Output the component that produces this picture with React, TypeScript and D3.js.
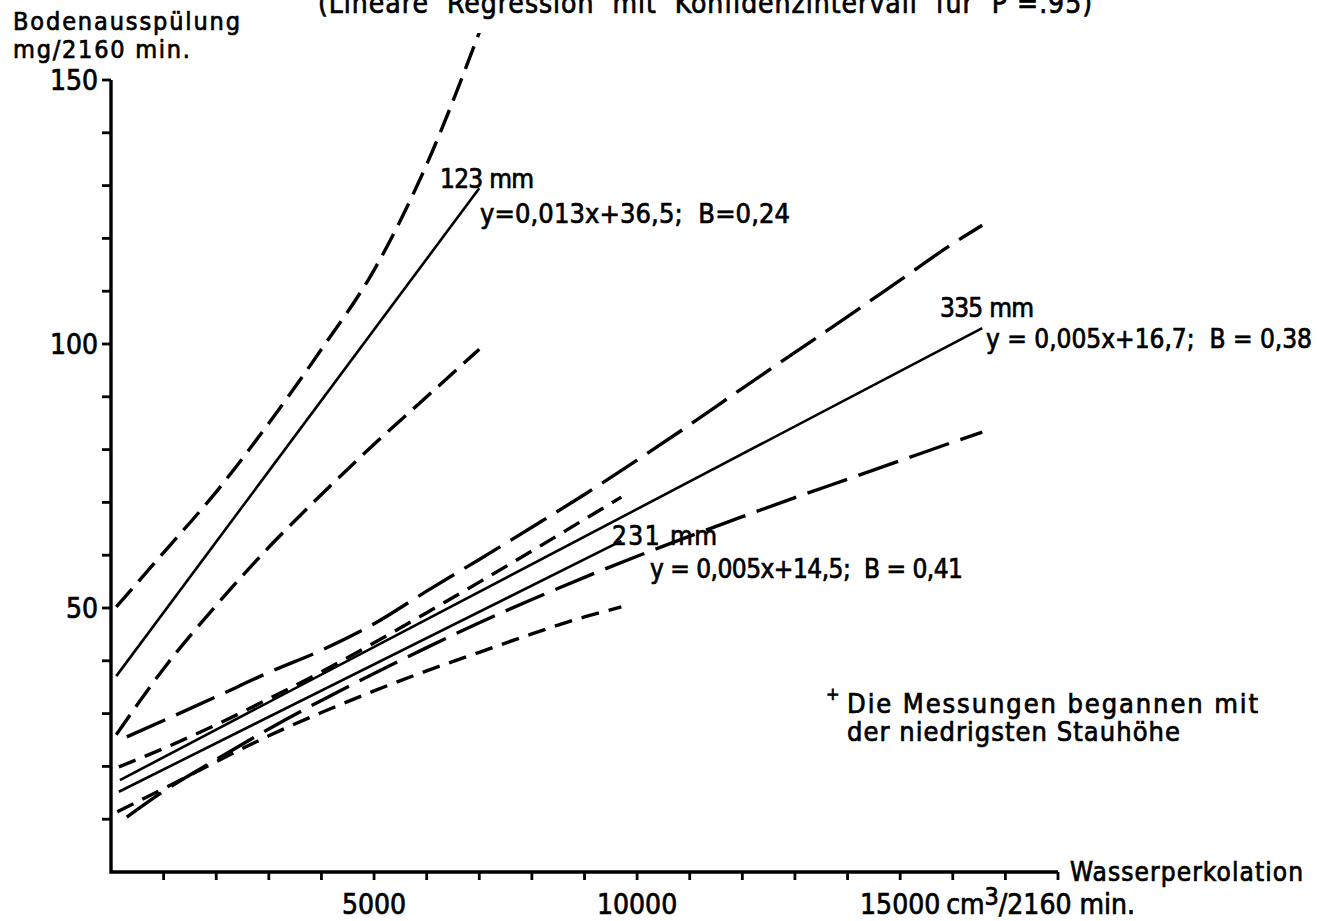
import React from 'react';
import * as d3 from 'd3';

// x: Wasserperkolation (cm3/2160 min), y: Bodenausspülung (mg/2160 min)
const xTickValues = d3.range(1000, 19000, 1000);
const yTickValues = d3.range(10, 160, 10);
const xTickLabels = [5000, 10000, 15000];
const yTickLabels = [50, 100, 150];

// 123 mm
const fit123 = [[100, 37.1], [7000, 129.5]];
const upper123 = [[100, 50.2], [1000, 60.5], [2000, 72], [3000, 85], [4000, 99], [5000, 114], [6000, 134], [7000, 159]];
const lower123 = [[100, 26], [1000, 38.5], [2000, 50.5], [3000, 61.5], [4000, 71.5], [5000, 81], [6000, 90], [7000, 99]];

// 231 mm
const fit231 = [[150, 15.2], [9700, 62.7]];
const upper231 = [[150, 19.9], [1000, 23.4], [2000, 27.9], [3000, 32.8], [4000, 37.9], [5000, 43.4], [6000, 49.1], [7000, 54.9], [8000, 60.8], [9000, 66.8], [9700, 71]];
const lower231 = [[120, 11.4], [1000, 15.8], [2000, 20.9], [3000, 25.8], [4000, 30.2], [5000, 34.3], [6000, 38.1], [7000, 41.6], [8000, 45.1], [9000, 48.3], [9700, 50.2]];

// 335 mm
const fit335 = [[170, 17.4], [16560, 103]];
const upper335 = [[300, 25.6], [1000, 28.7], [2000, 33.2], [3000, 37.8], [4000, 42], [5000, 47], [6000, 53.2], [7000, 59.2], [8000, 65.3], [9000, 71.5], [10000, 78], [11000, 84.7], [12000, 91.6], [13000, 98.4], [14000, 105.2], [15000, 112.1], [16000, 119], [16560, 122.5]];
const lower335 = [[300, 10.4], [1000, 15.3], [2000, 21.3], [3000, 27.1], [4000, 32.5], [5000, 37.6], [6000, 42.5], [7000, 47.2], [8000, 51.6], [9000, 55.8], [10000, 59.8], [11000, 63.6], [12000, 67.3], [13000, 70.9], [14000, 74.4], [15000, 77.9], [16000, 81.4], [16560, 83.3]];

const FONT = "'DejaVu Sans Condensed', 'DejaVu Sans'";

export default function App() {
  const width = 1317;
  const height = 921;
  const x = d3.scaleLinear().domain([0, 18000]).range([111, 1058]);
  const y = d3.scaleLinear().domain([0, 150]).range([872, 80]);

  const line = d3.line<number[]>()
    .x(d => x(d[0]))
    .y(d => y(d[1]))
    .curve(d3.curveMonotoneX);

  const series = [
    { data: fit123, dash: null, w: 2.6 },
    { data: upper123, dash: '24 10', w: 3.4 },
    { data: lower123, dash: '24 10', w: 3.4 },
    { data: fit231, dash: null, w: 2.6 },
    { data: upper231, dash: '18 10', w: 3.4 },
    { data: lower231, dash: '18 10', w: 3.4 },
    { data: fit335, dash: null, w: 2.6 },
    { data: upper335, dash: '42 12', w: 3.4 },
    { data: lower335, dash: '42 12', w: 3.4 },
  ];

  const x0 = x(0);
  const y0 = y(0);
  const ts = { stroke: '#000', strokeWidth: 0.7, style: { whiteSpace: 'pre' as const } };

  return (
    <svg width={width} height={height} style={{ display: 'block', position: 'absolute', left: 0, top: 0, background: '#fff' }}
      fontFamily={FONT} fill="#000">
      {/* title, cut by the top edge */}
      <text x={318} y={13} fontSize={28} textLength={774} {...ts}>(Lineare  Regression  mit  Konfidenzintervall  für  P =.95)</text>

      {/* y axis title */}
      <text x={13} y={30} fontSize={25} textLength={227} {...ts}>Bodenausspülung</text>
      <text x={13} y={58} fontSize={25} textLength={177} {...ts}>mg/2160 min.</text>

      {/* axes */}
      <path d={`M${x0},${y(150)}V${y0}H${x(18000)}`} fill="none" stroke="#000" strokeWidth={3.4} />
      {yTickValues.map(v => (
        <line key={'yt' + v} x1={x0 - 9} x2={x0} y1={y(v)} y2={y(v)} stroke="#000" strokeWidth={2.8} />
      ))}
      {xTickValues.map(v => (
        <line key={'xt' + v} x1={x(v)} x2={x(v)} y1={y0} y2={y0 + 8} stroke="#000" strokeWidth={2.8} />
      ))}
      {yTickLabels.map(v => (
        <text key={'yl' + v} x={x0 - 13} y={y(v) + 10} fontSize={28} textAnchor="end" {...ts}>{v}</text>
      ))}
      {xTickLabels.map(v => (
        <text key={'xl' + v} x={x(v)} y={914} fontSize={28} textAnchor="middle" {...ts}>{v}</text>
      ))}
      <text x={x(15000) + 46} y={914} fontSize={28} {...ts}>cm<tspan dy={-9} fontSize={25}>3</tspan><tspan dy={9}>/2160 min.</tspan></text>
      <text x={1070} y={881} fontSize={26} textLength={233} {...ts}>Wasserperkolation</text>

      {/* regression lines and confidence bands */}
      {series.map((s, i) => (
        <path key={i} d={line(s.data as any) || ''} fill="none" stroke="#000" strokeWidth={s.w}
          strokeDasharray={s.dash || undefined} />
      ))}

      {/* labels */}
      <text x={440} y={188} fontSize={26} textLength={94} {...ts}>123 mm</text>
      <text x={480} y={223} fontSize={27} textLength={310} {...ts}>y=0,013x+36,5;  B=0,24</text>
      <text x={940} y={317} fontSize={26} textLength={94} {...ts}>335 mm</text>
      <text x={986} y={348} fontSize={26} textLength={326} {...ts}>y = 0,005x+16,7;  B = 0,38</text>
      <text x={612} y={545} fontSize={26} textLength={105} {...ts}>231 mm</text>
      <text x={650} y={578} fontSize={26} textLength={313} {...ts}>y = 0,005x+14,5;  B = 0,41</text>

      <text x={826} y={700} fontSize={18} {...ts}>+</text>
      <text x={847} y={713} fontSize={27} textLength={411} {...ts}>Die Messungen begannen mit</text>
      <text x={847} y={741} fontSize={27} textLength={333} {...ts}>der niedrigsten Stauhöhe</text>
    </svg>
  );
}
